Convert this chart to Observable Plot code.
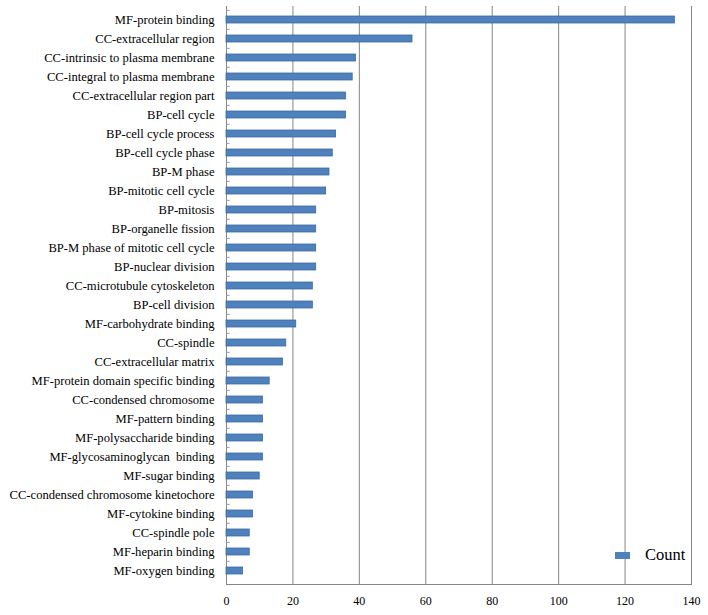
<!DOCTYPE html>
<html>
<head>
<meta charset="utf-8">
<script src="https://cdn.jsdelivr.net/npm/d3@7"></script>
<script src="https://cdn.jsdelivr.net/npm/@observablehq/plot@0.6"></script>
<style>
  html, body { margin: 0; padding: 0; background: #fff; }
  #wrap { position: relative; width: 708px; height: 615px; }
  #wrap svg, #wrap svg text { font-family: "Liberation Serif", "Times New Roman", serif !important; }
  #legend { position: absolute; left: 615px; top: 545px; font-family: "Liberation Serif", "Times New Roman", serif; font-size: 16.5px; color: #000; display: flex; align-items: center; }
  #legend .sw { width: 15px; height: 7px; background: #4F81BD; margin-right: 15px; }
</style>
</head>
<body>
<div id="wrap"><div id="legend"><span class="sw"></span><span>Count</span></div></div>
<script>
const categories = [
  "MF-protein binding",
  "CC-extracellular region",
  "CC-intrinsic to plasma membrane",
  "CC-integral to plasma membrane",
  "CC-extracellular region part",
  "BP-cell cycle",
  "BP-cell cycle process",
  "BP-cell cycle phase",
  "BP-M phase",
  "BP-mitotic cell cycle",
  "BP-mitosis",
  "BP-organelle fission",
  "BP-M phase of mitotic cell cycle",
  "BP-nuclear division",
  "CC-microtubule cytoskeleton",
  "BP-cell division",
  "MF-carbohydrate binding",
  "CC-spindle",
  "CC-extracellular matrix",
  "MF-protein domain specific binding",
  "CC-condensed chromosome",
  "MF-pattern binding",
  "MF-polysaccharide binding",
  "MF-glycosaminoglycan  binding",
  "MF-sugar binding",
  "CC-condensed chromosome kinetochore",
  "MF-cytokine binding",
  "CC-spindle pole",
  "MF-heparin binding",
  "MF-oxygen binding"
];
const counts = [135, 56, 39, 38, 36, 36, 33, 32, 31, 30, 27, 27, 27, 27, 26, 26, 21, 18, 17, 13, 11, 11, 11, 11, 10, 8, 8, 7, 7, 5];
const xTicks = [0, 20, 40, 60, 80, 100, 120, 140];

const data = categories.map((c, i) => ({cat: c, count: counts[i]}));
const serif = "'Liberation Serif', 'Times New Roman', serif";
const W = 708, H = 615, mT = 6, mB = 31;
const step = (H - mT - mB) / categories.length;

const chart = Plot.plot({
  width: W,
  height: H,
  marginLeft: 226,
  marginRight: 17,
  marginTop: mT,
  marginBottom: mB,
  style: "font-family: 'Liberation Serif', 'Times New Roman', serif; font-size: 12.6px; color: #000; background: #fff;",
  x: {domain: [0, 140]},
  y: {domain: categories, paddingInner: 0.63, paddingOuter: 0.315},
  marks: [
    Plot.gridX(xTicks, {stroke: "#868686", strokeOpacity: 1, strokeWidth: 1}),
    Plot.frame({anchor: "bottom", stroke: "#868686"}),
    Plot.ruleY(categories, {y: d => d, x1: 0, x2: 1.1, dy: -step / 2, stroke: "#9a9a9a", strokeWidth: 1}),
    Plot.barX(data, {x: "count", y: "cat", fill: "#4F81BD", stroke: "#3C6AA6", strokeWidth: 0.8}),
    Plot.axisY({tickSize: 0, tickPadding: 12, fontSize: "12.6px", fontFamily: serif, label: null}),
    Plot.axisX(xTicks, {tickSize: 0, tickPadding: 12, fontSize: "12px", fontFamily: serif, label: null, tickFormat: d => String(d)})
  ]
});
document.getElementById("wrap").prepend(chart);
</script>
</body>
</html>
